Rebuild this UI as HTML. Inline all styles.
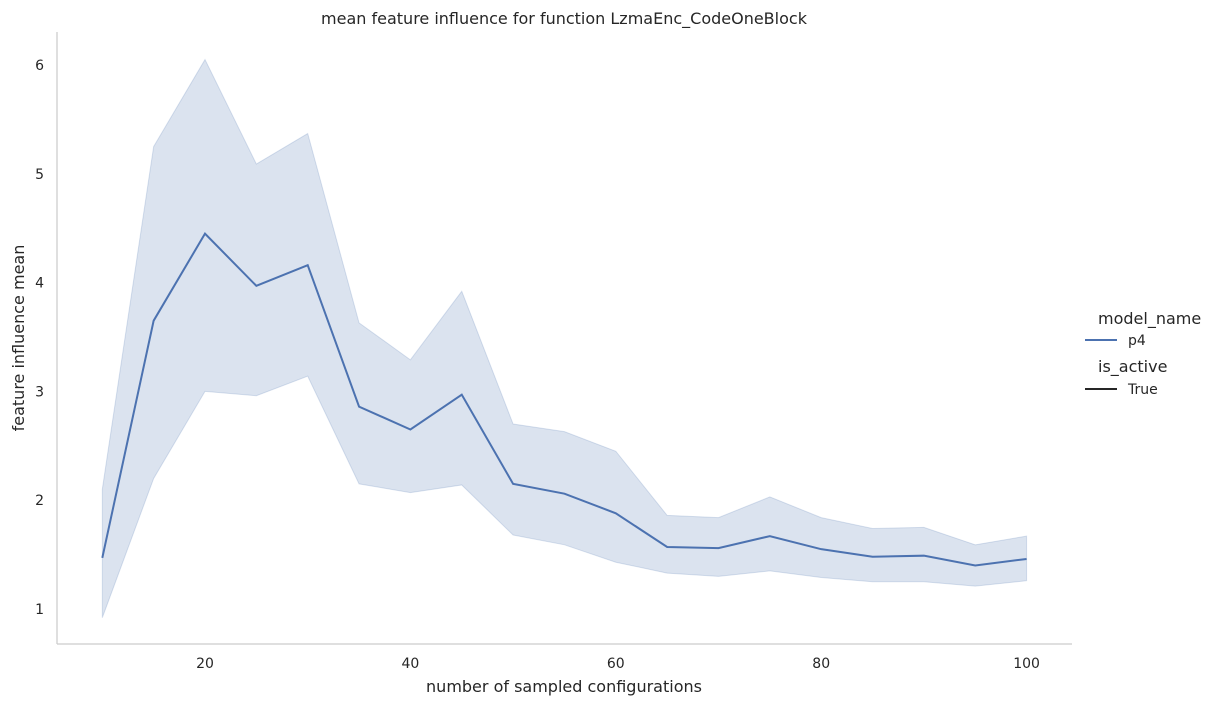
<!DOCTYPE html>
<html><head><meta charset="utf-8"><style>
body{margin:0;background:#fff;font-family:"DejaVu Sans","Liberation Sans",sans-serif;}
svg text{font-family:"DejaVu Sans","Liberation Sans",sans-serif;fill:#262626;}
</style></head><body>
<svg id="chart" width="1218" height="706">
<text x="564" y="24" font-size="16" text-anchor="middle">mean feature influence for function LzmaEnc_CodeOneBlock</text>
<g id="ticks"></g>
<path id="band" fill="#4c72b0" fill-opacity="0.2" stroke="#4c72b0" stroke-opacity="0.2"/>
<path id="line" fill="none" stroke="#4c72b0" stroke-width="2"/>
<line x1="57" y1="32" x2="57" y2="644" stroke="#ccc" stroke-width="1.25"/>
<line x1="57" y1="644" x2="1072" y2="644" stroke="#ccc" stroke-width="1.25"/>
<text x="564" y="692" font-size="16" text-anchor="middle">number of sampled configurations</text>
<text transform="translate(24,338) rotate(-90)" font-size="16" text-anchor="middle">feature influence mean</text>
<g>
<text x="1098" y="324" font-size="16">model_name</text>
<line x1="1085" y1="340" x2="1117" y2="340" stroke="#4c72b0" stroke-width="2"/>
<text x="1128" y="345" font-size="14">p4</text>
<text x="1098" y="372" font-size="16">is_active</text>
<line x1="1085" y1="389" x2="1117" y2="389" stroke="#262626" stroke-width="2"/>
<text x="1128" y="394" font-size="14">True</text>
</g>
</svg>
<script>
const xs=[10,15,20,25,30,35,40,45,50,55,60,65,70,75,80,85,90,95,100];
const meanVals=[1.47,3.65,4.45,3.97,4.16,2.86,2.65,2.97,2.15,2.06,1.88,1.57,1.56,1.67,1.55,1.48,1.49,1.40,1.46];
const upperVals=[2.1,5.25,6.05,5.09,5.37,3.63,3.29,3.92,2.70,2.63,2.45,1.86,1.84,2.03,1.84,1.74,1.75,1.59,1.67];
const lowerVals=[0.92,2.2,3.0,2.96,3.14,2.15,2.07,2.14,1.68,1.59,1.43,1.33,1.30,1.35,1.29,1.25,1.25,1.21,1.26];
const xTicks=[20,40,60,80,100];
const yTicks=[1,2,3,4,5,6];
const X=v=>205+(v-20)*10.27;
const Y=v=>609-(v-1)*108.8;
const ns="http://www.w3.org/2000/svg";
const g=document.getElementById('ticks');
xTicks.forEach(t=>{const e=document.createElementNS(ns,'text');


e.setAttribute('x',X(t));e.setAttribute('y',668);e.setAttribute('font-size','14');e.setAttribute('text-anchor','middle');e.textContent=t;g.appendChild(e);});
yTicks.forEach(t=>{const e=document.createElementNS(ns,'text');


e.setAttribute('x',44);e.setAttribute('y',Y(t)+5);e.setAttribute('font-size','14');e.setAttribute('text-anchor','end');e.textContent=t;g.appendChild(e);});
let d=xs.map((x,i)=>(i?'L':'M')+X(x)+','+Y(upperVals[i])).join('');
for(let i=xs.length-1;i>=0;i--)d+='L'+X(xs[i])+','+Y(lowerVals[i]);
document.getElementById('band').setAttribute('d',d+'Z');
document.getElementById('line').setAttribute('d',xs.map((x,i)=>(i?'L':'M')+X(x)+','+Y(meanVals[i])).join(''));
</script>
</body></html>
